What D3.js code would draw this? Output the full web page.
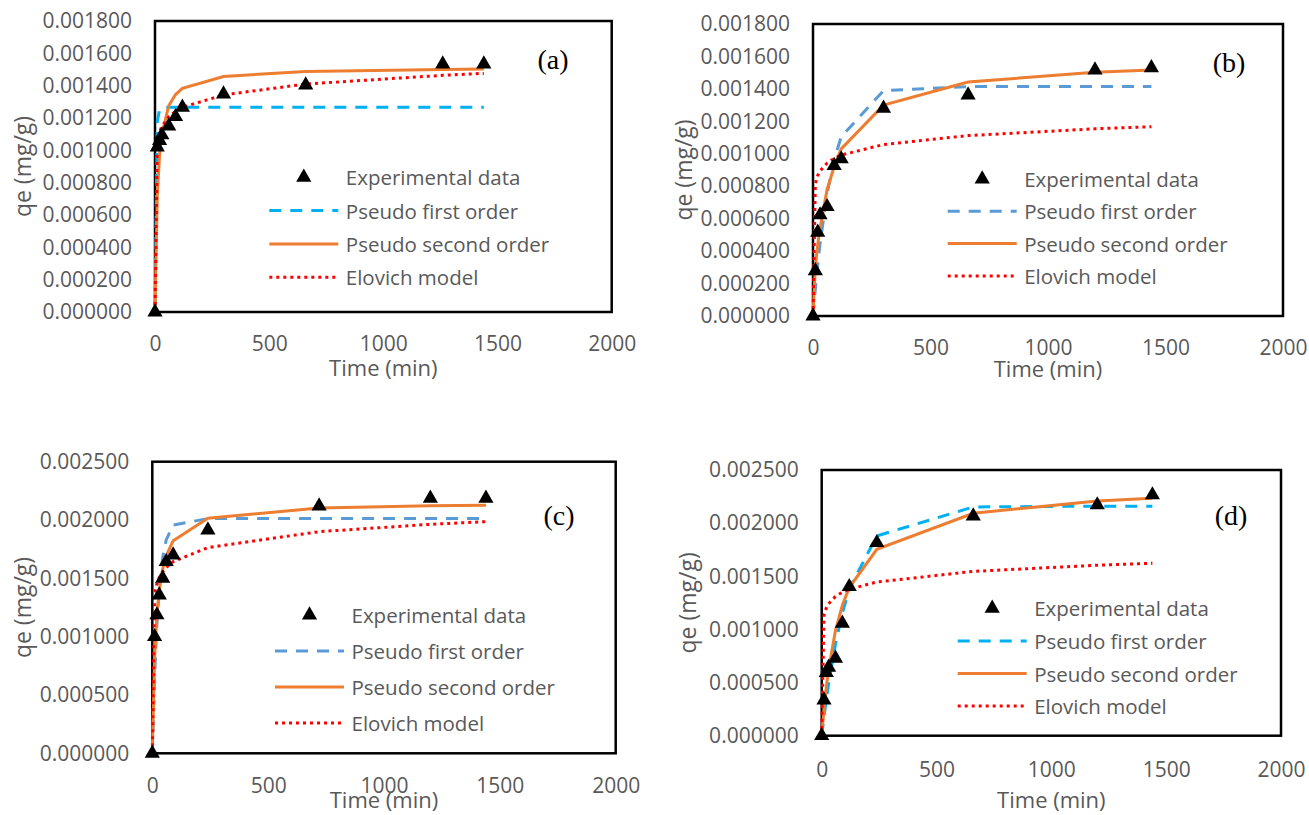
<!DOCTYPE html>
<html>
<head>
<meta charset="utf-8">
<script src="https://cdn.jsdelivr.net/npm/d3@7"></script>
<style>
  html, body { margin: 0; padding: 0; background: #fff; }
  svg { display: block; }
</style>
</head>
<body>
<svg id="chart" width="1309" height="815"></svg>
<script>
// ---------------- DATA ----------------
const seriesNames = ["Experimental data", "Pseudo first order", "Pseudo second order", "Elovich model"];
const panelLabels = ["(a)", "(b)", "(c)", "(d)"];
const xTicks = [0, 500, 1000, 1500, 2000];
const yTicksAB = [0, 0.0002, 0.0004, 0.0006, 0.0008, 0.001, 0.0012, 0.0014, 0.0016, 0.0018];
const yTicksCD = [0, 0.0005, 0.001, 0.0015, 0.002, 0.0025];
const xLabel = "Time (min)";
const yLabel = "qe (mg/g)";

// panel (a)
const timeA = [0, 10, 20, 30, 60, 90, 120, 300, 660, 1260, 1440];
const expA  = [0, 0.001020, 0.001060, 0.001095, 0.001150, 0.001208, 0.001266, 0.001348, 0.001404, 0.001534, 0.001534];
const pfoA  = [0, 0.001180, 0.001250, 0.001264, 0.001266, 0.001266, 0.001266, 0.001266, 0.001266, 0.001266, 0.001266];
const psoA  = [0, 0.000719, 0.000974, 0.001100, 0.001276, 0.001345, 0.001383, 0.001457, 0.001488, 0.001500, 0.001503];
const eloA  = [0, 0.001056, 0.001114, 0.001148, 0.001207, 0.001241, 0.001266, 0.001343, 0.001410, 0.001464, 0.001476];

// panel (b)
const timeB = [0, 10, 20, 30, 60, 90, 120, 300, 660, 1200, 1440];
const expB  = [0, 0.000279, 0.000516, 0.000623, 0.000674, 0.000927, 0.000968, 0.001280, 0.001362, 0.001516, 0.001530];
const pfoB  = [0, 0.000168, 0.000316, 0.000447, 0.000753, 0.000962, 0.001105, 0.001389, 0.001414, 0.001414, 0.001414];
const psoB  = [0, 0.000300, 0.000440, 0.000540, 0.000780, 0.000920, 0.001030, 0.001300, 0.001442, 0.001503, 0.001516];
const eloB  = [0, 0.000817, 0.000866, 0.000894, 0.000943, 0.000972, 0.000992, 0.001057, 0.001112, 0.001154, 0.001167];

// panel (c)
const timeC = [0, 10, 20, 30, 45, 60, 90, 240, 720, 1200, 1440];
const expC  = [0, 0.001000, 0.001186, 0.001357, 0.001500, 0.001643, 0.001700, 0.001914, 0.002120, 0.002186, 0.002186];
const pfoC  = [0, 0.000664, 0.001108, 0.001406, 0.001680, 0.001829, 0.001957, 0.002012, 0.002012, 0.002012, 0.002012];
const psoC  = [0, 0.000822, 0.001189, 0.001397, 0.001582, 0.001694, 0.001823, 0.002015, 0.002103, 0.002122, 0.002127];
const eloC  = [0, 0.001371, 0.001457, 0.001507, 0.001557, 0.001592, 0.001643, 0.001764, 0.001900, 0.001963, 0.001986];

// panel (d)
const timeD = [0, 10, 20, 30, 60, 90, 120, 240, 660, 1200, 1440];
const expD  = [0, 0.000336, 0.000593, 0.000643, 0.000728, 0.001057, 0.001402, 0.001816, 0.002067, 0.002171, 0.002265];
const pfoD  = [0, 0.000176, 0.000338, 0.000486, 0.000863, 0.001156, 0.001380, 0.001880, 0.002152, 0.002160, 0.002160];
const psoD  = [0, 0.000253, 0.000457, 0.000625, 0.000989, 0.001227, 0.001394, 0.001754, 0.002093, 0.002208, 0.002234];
const eloD  = [0, 0.001134, 0.001202, 0.001242, 0.001310, 0.001350, 0.001378, 0.001446, 0.001546, 0.001604, 0.001622];

// ---------------- LAYOUT / STYLE ----------------
const FONT = "'Open Sans', 'Noto Sans', sans-serif";
const TEXT = "#595959";
const ORANGE = "#ED7D31", RED = "#FF0000";

const panels = [
  { t: timeA, exp: expA, pfo: pfoA, pso: psoA, elo: eloA, yTicks: yTicksAB, yMax: 0.0018,
    box: { l: 155, r: 611.7, t: 21, b: 312 }, pfoColor: "#00B0F0",
    xLabOff: 24, xTitle: 367, yTitleX: 22, lab: [553, 62],
    leg: { x: 269.3, y: 177.3, dy: 33.3 } },
  { t: timeB, exp: expB, pfo: pfoB, pso: psoB, elo: eloB, yTicks: yTicksAB, yMax: 0.0018,
    box: { l: 813, r: 1283, t: 24, b: 316 }, pfoColor: "#5B9BD5",
    xLabOff: 24, xTitle: 368, yTitleX: 683, lab: [1229, 65],
    leg: { x: 947.7, y: 179, dy: 32.3 } },
  { t: timeC, exp: expC, pfo: pfoC, pso: psoC, elo: eloC, yTicks: yTicksCD, yMax: 0.0025,
    box: { l: 152.3, r: 615.7, t: 461.7, b: 753.3 }, pfoColor: "#5B9BD5",
    xLabOff: 25, xTitle: 799, yTitleX: 22, lab: [559, 518],
    leg: { x: 275, y: 615, dy: 36 } },
  { t: timeD, exp: expD, pfo: pfoD, pso: psoD, elo: eloD, yTicks: yTicksCD, yMax: 0.0025,
    box: { l: 821.7, r: 1281, t: 470, b: 735.7 }, pfoColor: "#00B0F0",
    xLabOff: 26, xTitle: 799, yTitleX: 687, lab: [1231, 518],
    leg: { x: 957.7, y: 608.3, dy: 32.6 } }
];

const svg = d3.select("#chart");
svg.append("rect").attr("width", 1309).attr("height", 815).attr("fill", "#fff");

const tri = d3.symbol().type(d3.symbolTriangle).size(100);
const fmt = d3.format(".6f");

panels.forEach((p, i) => {
  const x = d3.scaleLinear().domain([0, 2000]).range([p.box.l, p.box.r]);
  const y = d3.scaleLinear().domain([0, p.yMax]).range([p.box.b, p.box.t]);
  const g = svg.append("g");

  // Frame
  g.append("rect")
    .attr("x", p.box.l).attr("y", p.box.t)
    .attr("width", p.box.r - p.box.l).attr("height", p.box.b - p.box.t)
    .attr("fill", "none").attr("stroke", "#000").attr("stroke-width", 2.5);

  // Axes
  const ya = g.append("g").attr("transform", `translate(${p.box.l},0)`)
    .call(d3.axisLeft(y).tickValues(p.yTicks).tickFormat(fmt).tickSize(0).tickPadding(23));
  const xa = g.append("g").attr("transform", `translate(0,${p.box.b})`)
    .call(d3.axisBottom(x).tickValues(xTicks).tickFormat(d3.format("d")).tickSize(0).tickPadding(p.xLabOff));
  [ya, xa].forEach(a => {
    a.select(".domain").remove();
    a.selectAll("text").attr("fill", TEXT).style("font-family", FONT).style("font-size", "21px");
  });

  // Axis titles
  g.append("text")
    .attr("x", (p.box.l + p.box.r) / 2).attr("y", p.xTitle)
    .attr("text-anchor", "middle").attr("dominant-baseline", "central")
    .attr("fill", TEXT).style("font-family", FONT).style("font-size", "22px")
    .text(xLabel);
  g.append("text")
    .attr("transform", `translate(${p.yTitleX},${(p.box.t + p.box.b) / 2}) rotate(-90)`)
    .attr("text-anchor", "middle").attr("dominant-baseline", "central")
    .attr("fill", TEXT).style("font-family", FONT).style("font-size", "23px")
    .text(yLabel);

  // Lines
  const mk = arr => p.t.map((t, k) => [t, arr[k]]);
  const line = d3.line().x(d => x(d[0])).y(d => y(d[1]));
  g.append("path").datum(mk(p.pfo)).attr("d", line)
    .attr("fill", "none").attr("stroke", p.pfoColor).attr("stroke-width", 3)
    .attr("stroke-dasharray", "12,9");
  g.append("path").datum(mk(p.pso)).attr("d", line)
    .attr("fill", "none").attr("stroke", ORANGE).attr("stroke-width", 3);
  g.append("path").datum(mk(p.elo)).attr("d", line)
    .attr("fill", "none").attr("stroke", RED).attr("stroke-width", 3)
    .attr("stroke-dasharray", "3,4");

  // Experimental points
  g.selectAll(".pt").data(mk(p.exp)).enter().append("path")
    .attr("d", tri)
    .attr("transform", d => `translate(${x(d[0])},${y(d[1])})`)
    .attr("fill", "#000");

  // Panel label
  g.append("text")
    .attr("x", p.lab[0]).attr("y", p.lab[1] + 7)
    .attr("text-anchor", "middle")
    .attr("fill", "#000").style("font-family", "'Liberation Serif', 'Times New Roman', serif")
    .style("font-size", "28px")
    .text(panelLabels[i]);

  // Legend
  const L = p.leg, len = 69;
  seriesNames.forEach((name, k) => {
    const yy = L.y + k * L.dy;
    if (k === 0) {
      g.append("path").attr("d", tri).attr("transform", `translate(${L.x + len / 2},${yy})`).attr("fill", "#000");
    } else {
      const s = g.append("line").attr("x1", L.x).attr("x2", L.x + len).attr("y1", yy).attr("y2", yy)
        .attr("stroke-width", 3);
      if (k === 1) s.attr("stroke", p.pfoColor).attr("stroke-dasharray", "12,9");
      if (k === 2) s.attr("stroke", ORANGE);
      if (k === 3) s.attr("stroke", RED).attr("stroke-dasharray", "3,4");
    }
    g.append("text")
      .attr("x", L.x + 76.5).attr("y", yy)
      .attr("dominant-baseline", "central")
      .attr("fill", TEXT).style("font-family", FONT).style("font-size", "20.5px")
      .text(name);
  });
});
</script>
</body>
</html>
